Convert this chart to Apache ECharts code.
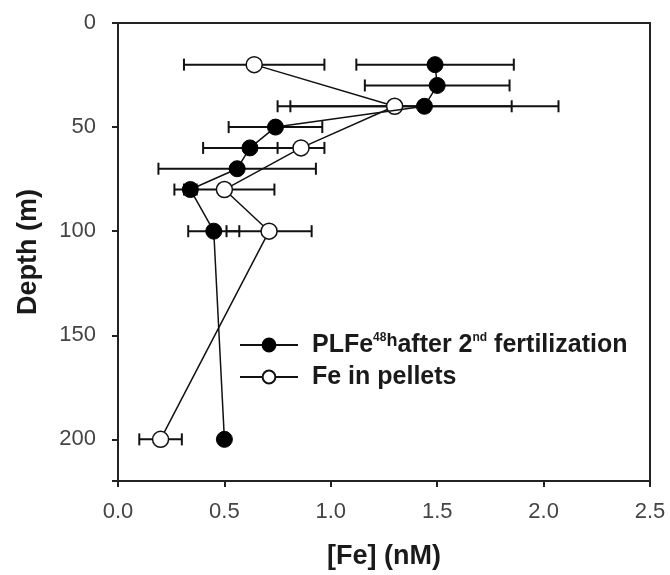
<!DOCTYPE html>
<html>
<head>
<meta charset="utf-8">
<script src="https://cdn.jsdelivr.net/npm/echarts@6/dist/echarts.min.js"></script>
<style>
  html, body { margin: 0; padding: 0; background: #fff; }
  #chart { width: 670px; height: 575px; }
</style>
</head>
<body>
<div id="chart"></div>
<script>
// PLFe 48h after 2nd fertilization (filled circles)
var depthPL = [20, 30, 40, 50, 60, 70, 80, 100, 200];
var fePL    = [1.49, 1.50, 1.44, 0.74, 0.62, 0.56, 0.34, 0.45, 0.50];
var errPL   = [0.37, 0.34, 0.63, 0.22, 0.22, 0.37, 0.03, 0.12, 0];

// Fe in pellets (open circles)
var depthPel = [20, 40, 60, 80, 100, 200];
var fePel    = [0.64, 1.30, 0.86, 0.50, 0.71, 0.20];
var errPel   = [0.33, 0.55, 0.11, 0.235, 0.20, 0.10];

var xTicks = [0, 0.5, 1.0, 1.5, 2.0, 2.5];
var yTicks = [0, 50, 100, 150, 200];

var namePL = 'PLFe48h after 2nd fertilization';
var namePel = 'Fe in pellets';

function points(xs, ys) {
  return xs.map(function (x, i) { return [x, ys[i]]; });
}
function errData(xs, ys, es) {
  return xs.map(function (x, i) { return [x, ys[i], es[i]]; });
}

// horizontal error bar with end caps
function renderErr(params, api) {
  var err = api.value(2);
  if (!err) return null;
  var x = api.value(0), y = api.value(1);
  var lo = api.coord([x - err, y]);
  var hi = api.coord([x + err, y]);
  var cap = 6;
  var st = { stroke: '#111', lineWidth: 2 };
  return {
    type: 'group',
    children: [
      { type: 'line', shape: { x1: lo[0], y1: lo[1], x2: hi[0], y2: hi[1] }, style: st },
      { type: 'line', shape: { x1: lo[0], y1: lo[1] - cap, x2: lo[0], y2: lo[1] + cap }, style: st },
      { type: 'line', shape: { x1: hi[0], y1: hi[1] - cap, x2: hi[0], y2: hi[1] + cap }, style: st }
    ]
  };
}

var chart = echarts.init(document.getElementById('chart'));
var font = '"Liberation Sans", Arial, sans-serif';

chart.setOption({
  animation: false,
  grid: { left: 118, right: 20, top: 23, bottom: 94, show: true, borderColor: '#222', borderWidth: 2 },
  legend: {
    left: 234,
    top: 327,
    orient: 'vertical',
    itemWidth: 58,
    itemHeight: 16,
    itemGap: 7,
    data: [namePL, namePel],
    formatter: function (name) {
      if (name === namePL) return 'PLFe{sup|48}{h|h}after 2{sup|nd} fertilization';
      return name;
    },
    textStyle: {
      fontFamily: font, fontSize: 25, fontWeight: 'bold', color: '#1a1a1a',
      padding: [0, 0, 0, 9],
      rich: {
        sup: { fontFamily: font, fontSize: 12, fontWeight: 'bold', color: '#1a1a1a', verticalAlign: 'top', padding: [0, 0, 10, 0] },
        h: { fontFamily: font, fontSize: 18, fontWeight: 'bold', color: '#1a1a1a', verticalAlign: 'top', padding: [0, 0, 8, 0] }
      }
    }
  },
  xAxis: {
    type: 'value',
    min: 0, max: 2.5, interval: 0.5,
    name: '[Fe] (nM)',
    nameLocation: 'middle',
    nameGap: 62,
    nameTextStyle: { fontFamily: font, fontSize: 27, fontWeight: 'bold', color: '#1a1a1a' },
    axisLine: { onZero: false, lineStyle: { color: '#222', width: 2 } },
    axisTick: { show: true, inside: false, length: 6, lineStyle: { color: '#222', width: 2 } },
    axisLabel: {
      margin: 20, fontFamily: font, fontSize: 22, color: '#444',
      formatter: function (v) { return xTicks.indexOf(v) >= 0 ? v.toFixed(1) : ''; }
    },
    splitLine: { show: false }
  },
  yAxis: {
    type: 'value',
    inverse: true,
    min: 0, max: 220, interval: 50,
    name: 'Depth (m)',
    nameLocation: 'middle',
    nameGap: 76,
    nameTextStyle: { fontFamily: font, fontSize: 27, fontWeight: 'bold', color: '#1a1a1a' },
    axisLine: { onZero: false, lineStyle: { color: '#222', width: 2 } },
    axisTick: { show: true, inside: false, length: 6, lineStyle: { color: '#222', width: 2 } },
    axisLabel: {
      margin: 22, fontFamily: font, fontSize: 22, color: '#444',
      formatter: function (v) { return yTicks.indexOf(v) >= 0 ? String(v) : ''; }
    },
    splitLine: { show: false }
  },
  series: [
    {
      type: 'custom',
      name: 'errPL',
      renderItem: renderErr,
      data: errData(fePL, depthPL, errPL),
      z: 1,
      silent: true
    },
    {
      type: 'custom',
      name: 'errPel',
      renderItem: renderErr,
      data: errData(fePel, depthPel, errPel),
      z: 1,
      silent: true
    },
    {
      type: 'line',
      name: namePel,
      data: points(fePel, depthPel),
      symbol: 'circle',
      symbolSize: 16,
      lineStyle: { color: '#111', width: 1.5 },
      itemStyle: { color: '#fff', borderColor: '#111', borderWidth: 1.5 },
      z: 3
    },
    {
      type: 'line',
      name: namePL,
      data: points(fePL, depthPL),
      symbol: 'circle',
      symbolSize: 16,
      lineStyle: { color: '#111', width: 1.5 },
      itemStyle: { color: '#000', borderColor: '#000', borderWidth: 1 },
      z: 4
    }
  ]
});
</script>
</body>
</html>
